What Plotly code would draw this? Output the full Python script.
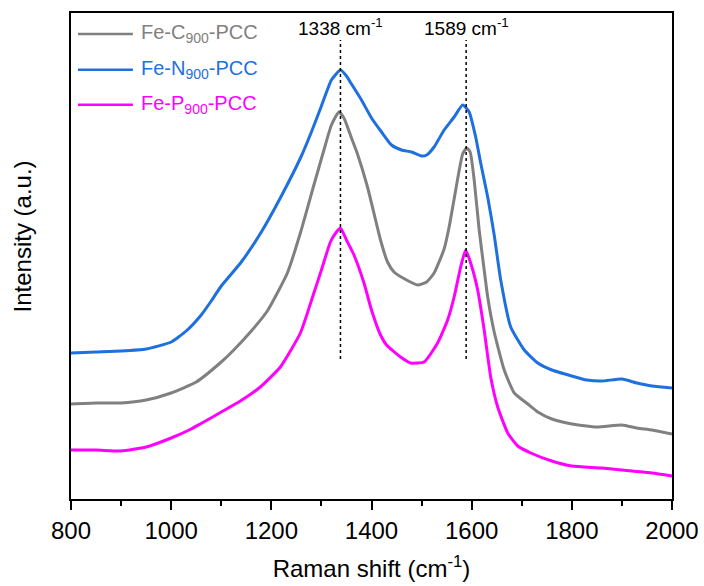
import plotly.graph_objects as go

# Raman spectra (intensity in arbitrary units, curves vertically offset)
shift_c = [800, 850, 900, 950, 1000, 1050, 1100, 1125, 1160, 1192, 1232, 1258, 1285, 1305,
           1320, 1335, 1345, 1360, 1372, 1392, 1418, 1432, 1445, 1470, 1492, 1510, 1525,
           1545, 1555, 1565, 1582, 1590, 1597, 1605, 1615, 1625, 1632, 1645, 1665, 1685,
           1712, 1732, 1760, 1800, 1850, 1900, 1930, 1960, 2000]
int_c = [95, 96, 96, 99, 106, 117, 137, 149, 168, 188, 226, 266, 314, 349,
         374, 387, 381, 361, 345, 312, 259, 237, 227, 219, 214, 217, 226,
         250, 272, 300, 345, 351, 347, 319, 269, 229, 202, 167, 129, 106,
         95, 87, 80, 75, 72, 74, 71, 69, 65]

shift_n = [800, 850, 900, 950, 1000, 1030, 1060, 1080, 1100, 1140, 1180, 1220, 1260,
           1280, 1300, 1320, 1338, 1350, 1360, 1380, 1400, 1420, 1440, 1460, 1480, 1500,
           1510, 1525, 1545, 1565, 1582, 1595, 1608, 1618, 1632, 1645, 1658, 1678, 1705,
           1732, 1760, 1800, 1830, 1860, 1900, 1930, 1960, 2000]
int_n = [146, 147, 148, 150, 157, 168, 184, 198, 213, 237, 267, 303, 343,
         367, 393, 419, 429, 423, 415, 399, 381, 367, 354, 349, 347, 343,
         344, 352, 369, 382, 394, 387, 362, 336, 302, 264, 219, 172, 149,
         136, 129, 123, 119, 118, 120, 116, 113, 111]

shift_p = [800, 850, 900, 950, 1000, 1040, 1058, 1100, 1138, 1178, 1218, 1258, 1285, 1300,
           1318, 1330, 1338, 1350, 1365, 1385, 1400, 1418, 1430, 1458, 1478, 1505, 1532,
           1552, 1565, 1578, 1588, 1598, 1612, 1625, 1638, 1652, 1672, 1692, 1718, 1760,
           1800, 1860, 1920, 1960, 2000]
int_p = [49, 49, 48, 52, 61, 70, 75, 87, 98, 112, 132, 166, 206, 229,
         257, 267, 271, 259, 244, 216, 189, 164, 154, 142, 136, 137, 156,
         179, 202, 232, 249, 236, 209, 169, 122, 92, 66, 53, 46, 38,
         33, 31, 28, 26, 23]

names = ["Fe-C<sub>900</sub>-PCC", "Fe-N<sub>900</sub>-PCC", "Fe-P<sub>900</sub>-PCC"]
colors = ["#808080", "#1E6FE0", "#FF00FF"]

# D and G band positions
peaks = [1338, 1589]
peak_labels = ["1338 cm<sup>-1</sup>", "1589 cm<sup>-1</sup>"]
peak_line_y = [140, 459]

x_ticks = [800, 1000, 1200, 1400, 1600, 1800, 2000]

FONT = "Liberation Sans, Arial, sans-serif"

fig = go.Figure()
for xs, ys, nm, col in [(shift_c, int_c, names[0], colors[0]),
                        (shift_n, int_n, names[1], colors[1]),
                        (shift_p, int_p, names[2], colors[2])]:
    fig.add_trace(go.Scatter(x=xs, y=ys, mode="lines", name=nm,
                             line=dict(color=col, width=3, shape="spline", smoothing=0.5),
                             showlegend=False))

shapes = []
annotations = []

# dotted guide lines at the band positions
for px, lab in zip(peaks, peak_labels):
    shapes.append(dict(type="line", xref="x", yref="y", x0=px, x1=px,
                       y0=peak_line_y[0], y1=peak_line_y[1],
                       line=dict(color="black", width=1.5, dash="dot")))
    annotations.append(dict(x=px, xref="x", y=0.972, yref="paper", text=lab,
                            showarrow=False, xanchor="center", yanchor="middle",
                            font=dict(family=FONT, size=19, color="black")))

# legend drawn in the upper-left corner
legend_y = [0.957, 0.883, 0.811]
for nm, col, ly in zip(names, colors, legend_y):
    shapes.append(dict(type="line", xref="paper", yref="paper", x0=0.0116, x1=0.103,
                       y0=ly, y1=ly, line=dict(color=col, width=2.5)))
    annotations.append(dict(x=0.113, xref="paper", y=ly, yref="paper", text=nm,
                            showarrow=False, xanchor="left", yanchor="middle",
                            font=dict(family=FONT, size=20, color=col)))

# y-axis title
annotations.append(dict(x=-0.08, xref="paper", y=0.54, yref="paper",
                        text="Intensity (a.u.)", textangle=-90, showarrow=False,
                        xanchor="center", yanchor="middle",
                        font=dict(family=FONT, size=24, color="black")))

fig.update_layout(
    width=704, height=586,
    margin=dict(l=71, r=32, t=13, b=87, autoexpand=False),
    paper_bgcolor="white", plot_bgcolor="white",
    font=dict(family=FONT, size=24, color="black"),
    shapes=shapes, annotations=annotations,
)

fig.update_xaxes(
    range=[800, 2000], tickmode="array", tickvals=x_ticks,
    ticktext=[str(v) for v in x_ticks],
    ticks="outside", ticklen=9, tickwidth=1.5, tickcolor="black",
    minor=dict(ticks="outside", ticklen=5, tickwidth=1.5, tickcolor="black", dtick=100),
    showline=True, linecolor="black", linewidth=1.5, mirror=True,
    showgrid=False, zeroline=False,
    tickfont=dict(family=FONT, size=24, color="black"),
    title=dict(text="Raman shift (cm<sup>-1</sup>)", standoff=18,
               font=dict(family=FONT, size=24, color="black")),
)
fig.update_yaxes(
    range=[0, 486], showticklabels=False, ticks="",
    showline=True, linecolor="black", linewidth=1.5, mirror=True,
    showgrid=False, zeroline=False,
)

fig.write_html("out.html")
